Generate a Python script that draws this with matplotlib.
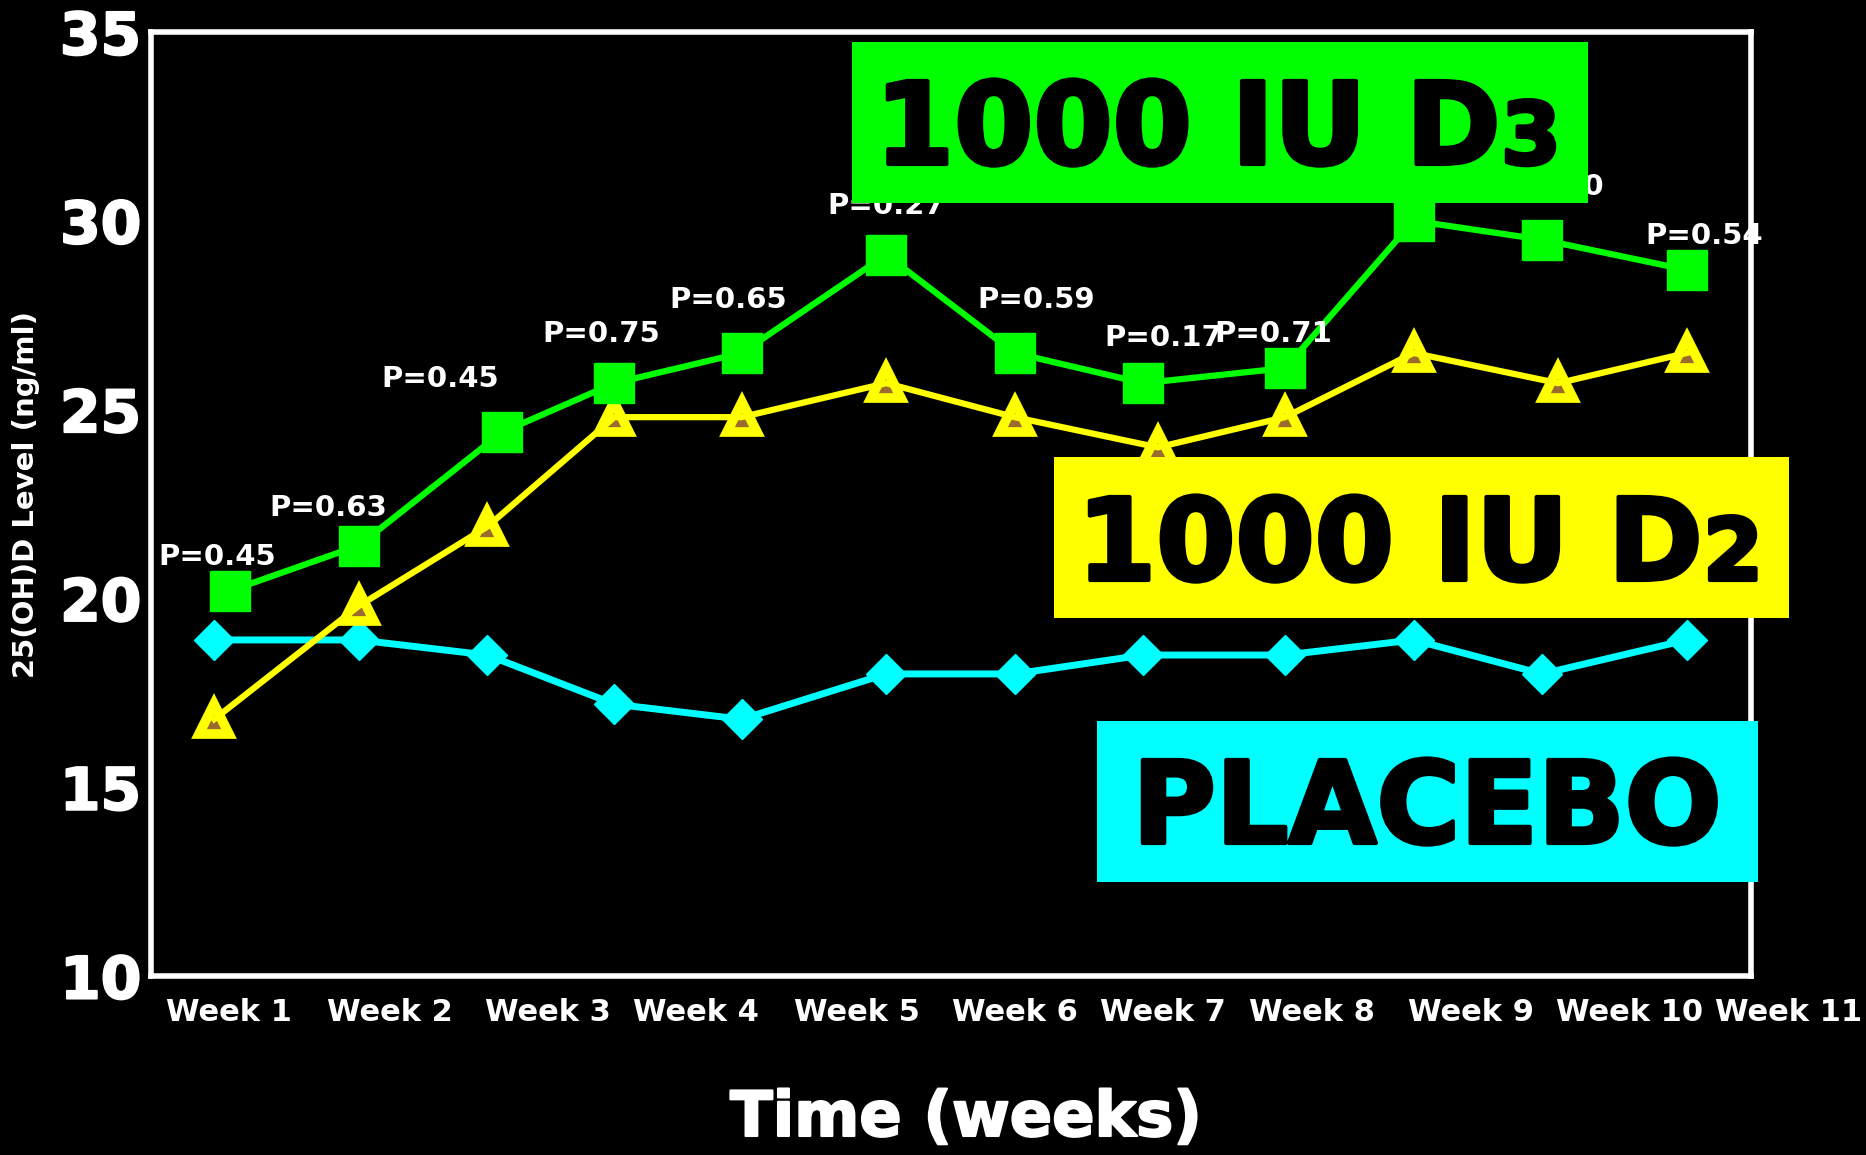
import matplotlib
matplotlib.use('Agg')
import matplotlib.pyplot as plt
import matplotlib.patheffects as pe
from matplotlib.patches import Rectangle
from matplotlib.transforms import blended_transform_factory

# --- dados ---
d3_x = [0.12, 1.08, 2.15, 2.99, 3.94, 5.02, 5.98, 6.94, 8.00, 8.96, 9.92, 11.00]
d3_vals = [20.2, 21.4, 24.4, 25.7, 26.5, 29.1, 26.5, 25.7, 26.1, 30.0, 29.5, 28.7]

d2_x = [0.00, 1.08, 2.04, 2.99, 3.94, 5.02, 5.98, 7.05, 8.00, 8.96, 10.04, 11.00]
d2_vals = [16.8, 19.8, 21.9, 24.8, 24.8, 25.7, 24.8, 24.0, 24.8, 26.5, 25.7, 26.5]

placebo_x = [0.00, 1.08, 2.04, 2.99, 3.94, 5.02, 5.98, 6.94, 8.00, 8.96, 9.92, 11.00]
placebo_vals = [18.9, 18.9, 18.5, 17.2, 16.8, 18.0, 18.0, 18.5, 18.5, 18.9, 18.0, 18.9]

# valores P (o da semana 10 fica escondido pela caixa verde no original)
p_labels = ['P=0.45', 'P=0.63', 'P=0.45', 'P=0.75', 'P=0.65', 'P=0.27',
            'P=0.59', 'P=0.17', 'P=0.71', '', 'P=0.20', 'P=0.54']
p_x = [0.02, 0.85, 1.69, 2.89, 3.84, 5.02, 6.14, 7.09, 7.91, 8.96, 9.94, 11.13]
p_y = [21.1, 22.4, 25.8, 27.0, 27.9, 30.4, 27.9, 26.9, 27.0, 31.2, 30.9, 29.6]

week_labels = ['Week 1', 'Week 2', 'Week 3', 'Week 4', 'Week 5', 'Week 6',
               'Week 7', 'Week 8', 'Week 9', 'Week 10', 'Week 11']
week_pos = [0.11, 1.31, 2.49, 3.60, 4.80, 5.98, 7.09, 8.20, 9.39, 10.57, 11.76]

y_ticks = [10, 15, 20, 25, 30, 35]

VERDE = '#00ff00'
AMARELO = '#ffff00'
CIANO = '#00ffff'
MARROM = '#9b6a2f'

W, H = 1866, 1155
fig = plt.figure(figsize=(W / 100, H / 100), dpi=100, facecolor='black')
ax = fig.add_axes([151 / W, 1 - 976 / H, 1600 / W, 944 / H])
ax.set_facecolor('black')

grosso_branco = [pe.withStroke(linewidth=1.5, foreground='white')]

# linhas e marcadores
ax.plot(placebo_x, placebo_vals, color=CIANO, lw=5, marker='D', ms=20,
        markeredgecolor=CIANO, zorder=3)
ax.plot(d2_x, d2_vals, linestyle='none', marker='^', ms=22, markerfacecolor=MARROM,
        markeredgecolor=AMARELO, markeredgewidth=7, zorder=3)
ax.plot(d2_x, d2_vals, color=AMARELO, lw=4.5, zorder=4)
ax.plot(d3_x, d3_vals, color=VERDE, lw=4.5, marker='s', ms=29,
        markeredgecolor=VERDE, zorder=5)

for txt, x, y in zip(p_labels, p_x, p_y):
    if not txt:
        continue
    ax.text(x, y, txt, color='white', fontsize=21, fontweight='bold',
            ha='center', va='center', zorder=6)

ax.set_xlim(-0.472, 11.48)
ax.set_ylim(10, 35)
ax.set_xticks([])
ax.set_yticks(y_ticks)
ax.set_yticklabels([str(v) for v in y_ticks], fontsize=42, fontweight='bold', color='white')
for lab in ax.get_yticklabels():
    lab.set_path_effects(grosso_branco)
ax.tick_params(axis='y', length=0, pad=7)
for sp in ax.spines.values():
    sp.set_color('white')
    sp.set_linewidth(4)

# rotulos das semanas (o ultimo fica fora do eixo)
trans = blended_transform_factory(ax.transData, ax.transAxes)
for lab, pos in zip(week_labels, week_pos):
    ax.text(pos, -0.039, lab, transform=trans, color='white', fontsize=22,
            fontweight='bold', ha='center', va='center', clip_on=False)

fig.text(966 / W, 1 - 1119 / H, 'Time (weeks)', color='white', fontsize=45,
         fontweight='bold', ha='center', va='center', path_effects=grosso_branco)
fig.text(26 / W, 1 - 495 / H, '25(OH)D Level (ng/ml)', color='white', fontsize=21,
         fontweight='bold', ha='center', va='center', rotation=90)

# caixas de legenda
renderer = fig.canvas.get_renderer()
grosso_preto = [pe.withStroke(linewidth=3, foreground='black')]


def caixa(x0, y0, x1, y1, cor, texto, sub, cx, base):
    fig.add_artist(Rectangle((x0 / W, 1 - y1 / H), (x1 - x0) / W, (y1 - y0) / H,
                             transform=fig.transFigure, facecolor=cor,
                             edgecolor='none', zorder=5))
    t = fig.text(0, 1 - base / H, texto, fontsize=82, fontweight='bold',
                 color='black', ha='left', va='baseline', zorder=6,
                 path_effects=grosso_preto)
    largura = t.get_window_extent(renderer).width
    s = None
    largura_sub = 0
    if sub:
        s = fig.text(0, 1 - base / H, sub, fontsize=62, fontweight='bold',
                     color='black', ha='left', va='baseline', zorder=6,
                     path_effects=grosso_preto)
        largura_sub = s.get_window_extent(renderer).width
    inicio = cx - (largura + largura_sub) / 2
    t.set_x(inicio / W)
    if s is not None:
        s.set_x((inicio + largura) / W)


caixa(852, 42, 1588, 203, VERDE, '1000 IU D', '3', 1218, 164)
caixa(1054, 457, 1789, 618, AMARELO, '1000 IU D', '2', 1420, 580)
caixa(1097, 721, 1758, 882, CIANO, 'PLACEBO', '', 1427, 843)

fig.savefig('out.png', dpi=100, facecolor='black')
plt.close(fig)
